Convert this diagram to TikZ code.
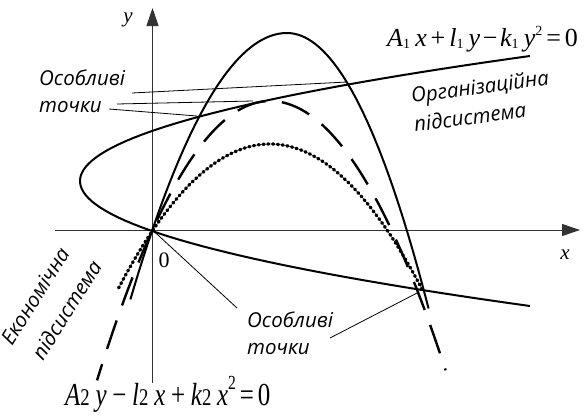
\documentclass[tikz,border=0pt]{standalone}
\usepackage{fontspec}
\setmainfont{Liberation Serif}
\newfontfamily\lblfont{Open Sans}
\newfontfamily\eqbfont{Liberation Serif}[FakeStretch=0.78]
\usetikzlibrary{arrows.meta}
\newcommand\tsub[1]{\raisebox{-0.08em}{\fontsize{14}{14}\selectfont\upshape #1}}
\newcommand\tsup[1]{\raisebox{0.40em}{\fontsize{14}{14}\selectfont\upshape #1}}
\newcommand\bsub[1]{{\fontsize{24}{24}\selectfont\upshape #1}}
\newcommand\bsup[1]{\raisebox{0.50em}{\fontsize{20}{20}\selectfont\upshape #1}}
\newcommand\gapx[1]{\hspace{#1em}}
\begin{document}
\begin{tikzpicture}[x=1pt,y=-1pt,
 axis/.style={line width=1pt, draw=black!80, -{Triangle[length=18pt,width=12pt]}},
 curve/.style={line width=2pt, line join=round},
 dashcurve/.style={line width=2.4pt, dash pattern=on 30pt off 16pt, dash phase=13pt},
 dotcurve/.style={line width=3.2pt, line cap=round, dash pattern=on 1.4pt off 3.4pt},
 callout/.style={line width=0.8pt},
 lbl/.style={font=\lblfont\itshape\fontsize{20.5}{24}\selectfont, inner sep=0pt},
 eqa/.style={font=\fontsize{26}{30}\selectfont, inner sep=0pt},
 eqb/.style={font=\eqbfont\fontsize{32}{36}\selectfont, inner sep=0pt},
 axlbl/.style={font=\itshape\fontsize{21}{24}\selectfont, inner sep=0pt}]
\useasboundingbox (0,0) rectangle (584,418);
% axes
\coordinate (xs) at (55,230);
\coordinate (xe) at (580,230);
\coordinate (ys) at (152.5,383);
\coordinate (ye) at (152.5,8);
\draw[axis] (xs) -- (xe);
\draw[axis] (ys) -- (ye);
% sideways parabola
\draw[curve] plot[domain=56:306, samples=80, variable=\t] ({80+0.0288*(\t-181)*(\t-181)},\t);
% solid downward parabola
\draw[curve] plot[domain=1.16:0, samples=40, variable=\s] ({287-135*\s},{33+198*\s*\s})
 -- plot[domain=0:1.18, samples=40, variable=\s] ({287+120*\s},{33+198*\s*\s});
% dashed parabola
\draw[dashcurve] plot[domain=1.466:0, samples=50, variable=\s] ({270-118*\s},{101+130*\s*\s})
 -- plot[domain=0:1.44, samples=50, variable=\s] ({270+122*\s},{101+130*\s*\s});
% dotted parabola
\draw[dotcurve] plot[domain=1.294:0, samples=50, variable=\s] ({270-117*\s},{144+86*\s*\s})
 -- plot[domain=0:1.3, samples=50, variable=\s] ({270+117*\s},{144+86*\s*\s});
% labels
\node[axlbl] (ylab) at (128,20) {y};
\node[axlbl] (xlab) at (565,255) {x};
\node[font=\fontsize{22}{24}\selectfont, inner sep=0pt] (zero) at (164,260) {0};
\node[eqa, anchor=base west] (eq1) at (387,46) {{\itshape A}\tsub{1}\gapx{.2}{\itshape x}\gapx{.15}+\gapx{.15}{\itshape l}\tsub{1}\gapx{.2}{\itshape y}\gapx{.1}−\gapx{.1}{\itshape k}\tsub{1}\gapx{.2}{\itshape y}\tsup{2}\gapx{.15}=\gapx{.15}0};
\node[eqb, anchor=base west] (eq2) at (65,405) {{\itshape A}\bsub{2}\gapx{.18}{\itshape y}\gapx{.18}−\gapx{.18}{\itshape l}\bsub{2}\gapx{.18}{\itshape x}\gapx{.18}+\gapx{.18}{\itshape k}\bsub{2}\gapx{.18}{\itshape x}\bsup{2}\gapx{.12}=\gapx{.12}0};
\node[lbl, anchor=base west] (sp1a) at (39,85) {Особливі};
\node[lbl, anchor=base west] (sp1b) at (39,112) {точки};
\node[lbl, anchor=base west] (sp2a) at (247,327) {Особливі};
\node[lbl, anchor=base west] (sp2b) at (247,354) {точки};
\node[lbl, anchor=base west, rotate=7.6] (org1) at (412,103) {Організаційна};
\node[lbl, anchor=base west, rotate=7.6] (org2) at (415,132) {підсистема};
\node[lbl, anchor=base west, rotate=58] (eco1) at (12,347) {Економічна};
\node[lbl, anchor=base west, rotate=58] (eco2) at (43,362) {підсистема};
% callouts
\coordinate (c1s) at (132,93);  \coordinate (c1e) at (347,82);
\coordinate (c2s) at (117,104); \coordinate (c2e) at (253,101);
\coordinate (c3s) at (109,109); \coordinate (c3e) at (197,116);
\coordinate (c4s) at (237,308); \coordinate (O) at (152.5,230);
\coordinate (c5s) at (330,338); \coordinate (P2) at (419,292);
\draw[callout] (c1s) -- (c1e);
\draw[callout] (c2s) -- (c2e);
\draw[callout] (c3s) -- (c3e);
\draw[callout] (c4s) -- (O);
\draw[callout] (c5s) -- (P2);
\end{tikzpicture}
\end{document}
